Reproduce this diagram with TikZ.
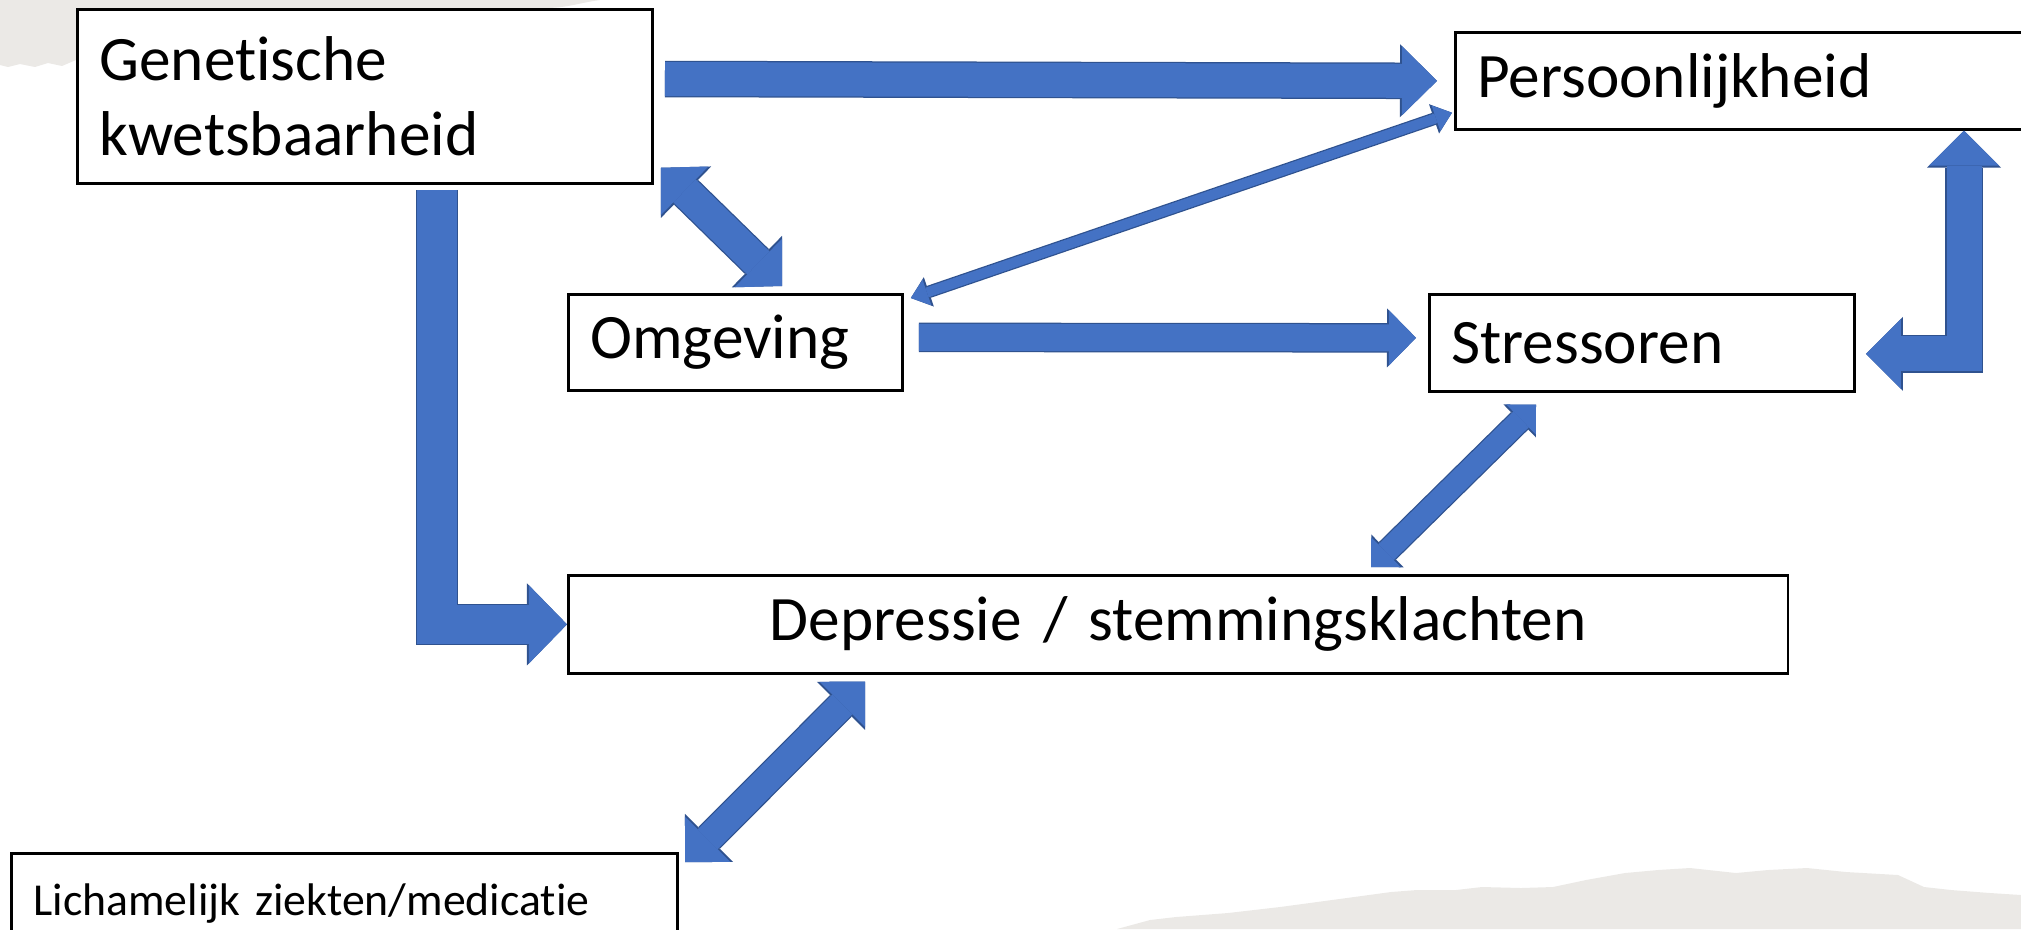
\documentclass[tikz,border=0pt]{standalone}
\usepackage{fontspec}
\setmainfont{Carlito}[Ligatures={NoCommon,NoContextual}]
\usetikzlibrary{positioning}
\usetikzlibrary{arrows.meta}
\usetikzlibrary{calc}
\definecolor{arrowblue}{HTML}{4472C4}
\definecolor{arrowedge}{HTML}{2F528F}
\definecolor{bggray}{HTML}{EBE9E6}
\tikzstyle{box} = [draw, line width=0.75pt, fill=white, rectangle, anchor=north west, inner xsep=0.22cm, inner ysep=0pt, align=left, font=\fontsize{18}{21.3}\selectfont]
\tikzstyle{smallbox} = [box, font=\fontsize{13}{15.6}\selectfont]
\tikzset{
  onehead/.style n args={3}{draw=arrowblue, line width=#1, -{Triangle[width=#2,length=#3,line width=0pt]},
    preaction={draw=arrowedge, line width=#1+0.025cm, -{Triangle[width=#2+0.04cm,length=#3+0.02cm,line width=0pt]}}},
  twohead/.style n args={3}{draw=arrowblue, line width=#1, {Triangle[width=#2,length=#3,line width=0pt]}-{Triangle[width=#2,length=#3,line width=0pt]},
    preaction={draw=arrowedge, line width=#1+0.025cm, {Triangle[width=#2+0.04cm,length=#3+0.02cm,line width=0pt]}-{Triangle[width=#2+0.04cm,length=#3+0.02cm,line width=0pt]}}},
}

\begin{document}
\begin{tikzpicture}[x=0.01cm, y=-0.01cm]

  \useasboundingbox (0,0) rectangle (2021,929);
  \clip (0,0) rectangle (2021,929);

  % background
  \fill[bggray] (0,0) -- (600,0) to[out=188,in=0] (545,8) -- (545,60) -- (76,60) -- (62,66) -- (48,63) -- (35,67) -- (20,64) -- (8,67) -- (0,65) -- cycle;
  \fill[bggray] (1117,929) -- (1150,920) -- (1176,917) -- (1228,913) -- (1280,907) -- (1332,900) -- (1391,892) -- (1417,890) -- (1456,890) -- (1482,887) -- (1521,888) -- (1553,887) -- (1586,880) -- (1625,873) -- (1658,870) -- (1690,868) -- (1736,873) -- (1768,870) -- (1807,868) -- (1846,872) -- (1898,875) -- (1924,887) -- (1951,890) -- (1990,893) -- (2021,895) -- (2021,929) -- cycle;

  % boxes
  \foreach \x/\y/\w/\h/\name/\label in {76/8/5.31cm/1.74cm/gen/{Genetische\\kwetsbaarheid}, 1454/31/5.42cm/0.97cm/pers/Persoonlijkheid, 567/293/2.90cm/0.96cm/omg/Omgeving, 1428/293/3.81cm/0.97cm/str/Stressoren}
     \node[box, text width=\w, minimum height=\h] (\name) at (\x,\y) {\label};

  \node[box, align=center, text width=11.75cm, minimum height=0.98cm] (dep) at (567,574) {Depressie / stemmingsklachten};
  \node[smallbox, text width=6.22cm, minimum height=1.0cm] (lich) at (10,852) {Lichamelijk ziekten/medicatie};

  % arrows
  \draw[onehead={0.34cm}{0.69cm}{0.35cm}] ($(gen.north east)+(11,71)$) -- ($(pers.west)+(-17,0)$);
  \draw[twohead={0.32cm}{0.68cm}{0.33cm}] ($(gen.south east)+(7,-17)$) -- ($(omg.north west)+(215,-7)$);
  \draw[twohead={0.10cm}{0.27cm}{0.17cm}] ($(omg.north east)+(7,5)$) -- ($(pers.south west)+(-2,-18)$);
  \draw[onehead={0.27cm}{0.55cm}{0.27cm}] ($(omg.east)+(15,-5)$) -- ($(str.west)+(-12,-5)$);
  \draw[twohead={0.22cm}{0.42cm}{0.21cm}] ($(str.south west)+(108,12)$) -- ($(dep.north west)+(804,-7)$);
  \draw[twohead={0.28cm}{0.64cm}{0.32cm}] ($(dep.south west)+(298,7)$) -- ($(lich.north east)+(6,10)$);
  \draw[onehead={0.39cm}{0.78cm}{0.38cm}] ($(gen.south west)+(361,5)$) |- (dep.west);
  \draw[twohead={0.35cm}{0.70cm}{0.35cm}] ($(str.east)+(10,11)$) -| ($(pers.south west)+(510,0)$);

\end{tikzpicture}
\end{document}
